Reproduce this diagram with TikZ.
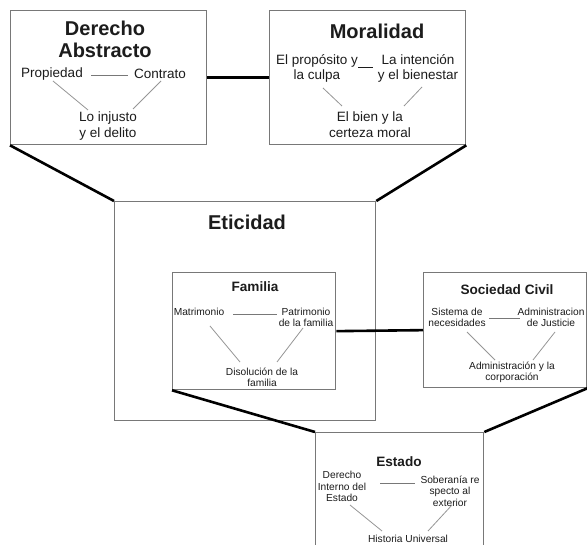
\documentclass[tikz,border=0pt]{standalone}
\usepackage{fontspec}
\setmainfont{Liberation Sans}
\definecolor{boxgray}{RGB}{120,120,120}
\definecolor{txt}{RGB}{28,28,28}
\definecolor{lgray}{RGB}{150,150,150}
\tikzset{
  box/.style={draw=boxgray, line width=1.3pt, fill=white, rectangle, inner sep=0pt, anchor=north west},
  link/.style={draw=black, line width=2.6pt},
  bigtitle/.style={text=txt, inner sep=0pt, align=center, font=\fontsize{20}{22}\selectfont\bfseries},
  midtitle/.style={text=txt, inner sep=0pt, align=center, font=\fontsize{13.6}{15}\selectfont\bfseries},
  item/.style={text=txt, inner sep=0pt, align=center, font=\fontsize{13.5}{15.5}\selectfont},
  small/.style={text=txt, inner sep=0pt, align=center, font=\fontsize{10.2}{11.3}\selectfont},
  hline/.style={draw=boxgray, line width=0.9pt},
  dline/.style={draw=lgray, line width=0.8pt}
}
\begin{document}
\begin{tikzpicture}[x=1pt, y=-1pt]
\useasboundingbox (0,0) rectangle (587,545);
\clip (0,0) rectangle (587,545);
\fill[white] (0,0) rectangle (587,545);

% boxes
\node[box, minimum width=196pt, minimum height=134pt] (da) at (10,10) {};
\node[box, minimum width=196pt, minimum height=134pt] (mor) at (269,10) {};
\node[box, minimum width=261pt, minimum height=219pt] (etic) at (114,201) {};
\node[box, minimum width=163pt, minimum height=117pt] (fam) at (172,272) {};
\node[box, minimum width=163pt, minimum height=115pt] (soc) at (423,272) {};
\node[box, minimum width=168pt, minimum height=140pt] (est) at (315,432) {};

% thick connectors
\draw[link] (da.east) -- (mor.west);
\draw[link] (da.south west) -- (etic.north west);
\draw[link] (mor.south east) -- (etic.north east);
\draw[link] (fam.east) -- (soc.west);
\draw[link] (fam.south west) -- (est.north west);
\draw[link] (soc.south east) -- (est.north east);

% Derecho Abstracto
\node[bigtitle] (daT) at (105,39) {Derecho\\Abstracto};
\node[item] (prop) at (52,74) {Propiedad};
\node[item] (contr) at (160,74) {Contrato};
\node[item] (injus) at (108,126) {Lo injusto\\y el delito};
\coordinate (da1) at (91,75); \coordinate (da2) at (128,75);
\coordinate (da3) at (53,81); \coordinate (da4) at (88,110);
\coordinate (da5) at (161,81); \coordinate (da6) at (133,109);
\draw[hline] (da1) -- (da2);
\draw[dline] (da3) -- (da4);
\draw[dline] (da5) -- (da6);

% Moralidad
\node[bigtitle] (morT) at (377,31) {Moralidad};
\node[item] (prop2) at (317,68.5) {El propósito y\\la culpa};
\node[item] (inten) at (418,68.5) {La intención\\y el bienestar};
\node[item] (bien) at (370,124.5) {El bien y la\\certeza moral};
\coordinate (mo1) at (358,67); \coordinate (mo2) at (373,67);
\coordinate (mo3) at (323,88); \coordinate (mo4) at (342,106);
\coordinate (mo5) at (422,87); \coordinate (mo6) at (404,106);
\draw[draw=txt, line width=0.8pt] (mo1) -- (mo2);
\draw[dline] (mo3) -- (mo4);
\draw[dline] (mo5) -- (mo6);

% Eticidad
\node[bigtitle] (eticT) at (247,222) {Eticidad};

% Familia
\node[midtitle] (famT) at (255,287) {Familia};
\node[small] (matri) at (199,312) {Matrimonio};
\node[small] (patri) at (306,317.5) {Patrimonio\\de la familia};
\node[small] (disol) at (262,377.5) {Disolución de la\\familia};
\coordinate (fa1) at (233,314); \coordinate (fa2) at (277,314);
\coordinate (fa3) at (210,326); \coordinate (fa4) at (240,362);
\coordinate (fa5) at (303,328); \coordinate (fa6) at (277,362);
\draw[hline] (fa1) -- (fa2);
\draw[dline] (fa3) -- (fa4);
\draw[dline] (fa5) -- (fa6);

% Sociedad Civil
\node[midtitle] (socT) at (507,290) {Sociedad Civil};
\node[small] (sist) at (457,317.5) {Sistema de\\necesidades};
\node[small] (admj) at (551,317.5) {Administracion\\de Justicie};
\node[small] (admc) at (512,372) {Administración y la\\corporación};
\coordinate (so1) at (489,318); \coordinate (so2) at (520,318);
\coordinate (so3) at (467,332); \coordinate (so4) at (495,360);
\coordinate (so5) at (555,332); \coordinate (so6) at (533,360);
\draw[hline] (so1) -- (so2);
\draw[dline] (so3) -- (so4);
\draw[dline] (so5) -- (so6);

% Estado
\node[midtitle] (estT) at (399,462) {Estado};
\node[small] (dint) at (342,486.5) {Derecho\\Interno del\\Estado};
\node[small] (sobe) at (450,491) {Soberanía re\\specto al\\exterior};
\node[small] (hist) at (408,538.5) {Historia Universal};
\coordinate (es1) at (380,483); \coordinate (es2) at (415,483);
\coordinate (es3) at (350,505); \coordinate (es4) at (382,531);
\coordinate (es5) at (452,505); \coordinate (es6) at (428,531);
\draw[hline] (es1) -- (es2);
\draw[dline] (es3) -- (es4);
\draw[dline] (es5) -- (es6);
\end{tikzpicture}
\end{document}
